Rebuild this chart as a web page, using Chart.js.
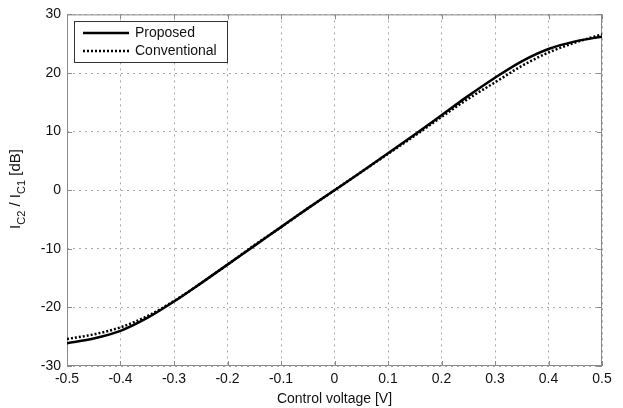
<!DOCTYPE html>
<html><head><meta charset="utf-8">
<script src="https://cdn.jsdelivr.net/npm/chart.js@4"></script>
<style>html,body{margin:0;padding:0;background:#fff}#w{width:623px;height:408px}</style>
</head><body><div id="w"><canvas id="c"></canvas></div>
<script>
const voltage = [-0.5,-0.45,-0.4,-0.35,-0.3,-0.25,-0.2,-0.15,-0.1,-0.05,0,0.05,0.1,0.15,0.2,0.25,0.3,0.35,0.4,0.45,0.5];
const proposed = [-26.1,-25.3,-24.0,-21.8,-19.0,-15.9,-12.7,-9.5,-6.3,-3.1,0,3.1,6.3,9.5,12.8,16.1,19.2,22.0,24.1,25.4,26.2];
const conventional = [-25.4,-24.6,-23.4,-21.5,-18.9,-15.9,-12.7,-9.4,-6.3,-3.1,0,3.1,6.2,9.3,12.5,15.6,18.4,21.2,23.5,25.2,26.6];
const xTicks = [-0.5,-0.4,-0.3,-0.2,-0.1,0,0.1,0.2,0.3,0.4,0.5];
const yTicks = [-30,-20,-10,0,10,20,30];
const seriesNames = ['Proposed','Conventional'];

const FONT = 'Liberation Sans, Arial, sans-serif';

const framePlugin = {
  id: 'frame',
  beforeDatasetsDraw(chart) {
    const {ctx, chartArea: a, scales: {x, y}} = chart;
    ctx.save();
    ctx.strokeStyle = '#8a8a8a';
    ctx.lineWidth = 1;
    ctx.setLineDash([]);
    ctx.strokeRect(a.left + 0.5, a.top + 0.5, a.right - a.left - 1, a.bottom - a.top - 1);
    ctx.beginPath();
    const tl = 5;
    xTicks.forEach(v => {
      const px = Math.round(x.getPixelForValue(v)) + 0.5;
      ctx.moveTo(px, a.bottom); ctx.lineTo(px, a.bottom - tl);
      ctx.moveTo(px, a.top); ctx.lineTo(px, a.top + tl);
    });
    yTicks.forEach(v => {
      const py = Math.round(y.getPixelForValue(v)) + 0.5;
      ctx.moveTo(a.left, py); ctx.lineTo(a.left + tl, py);
      ctx.moveTo(a.right, py); ctx.lineTo(a.right - tl, py);
    });
    ctx.stroke();
    ctx.restore();
  },
  afterDraw(chart) {
    const {ctx} = chart;
    ctx.save();
    // legend
    const L = 74, T = 21, R = 227, B = 62;
    ctx.fillStyle = '#fff';
    ctx.fillRect(L, T, R - L, B - T);
    ctx.strokeStyle = '#333';
    ctx.lineWidth = 1;
    ctx.strokeRect(L + 0.5, T + 0.5, R - L, B - T);
    const rows = [33, 51];
    chart.data.datasets.forEach((ds, i) => {
      ctx.beginPath();
      ctx.strokeStyle = ds.borderColor;
      ctx.lineWidth = ds.borderWidth;
      ctx.setLineDash(ds.borderDash || []);
      ctx.moveTo(83, rows[i]); ctx.lineTo(129, rows[i]);
      ctx.stroke();
      ctx.setLineDash([]);
      ctx.fillStyle = '#111';
      ctx.font = '14px ' + FONT;
      ctx.textBaseline = 'middle';
      ctx.textAlign = 'left';
      ctx.fillText(ds.label, 135, rows[i] + 0.5);
    });
    // y title with subscripts
    ctx.translate(16, 189);
    ctx.rotate(-Math.PI / 2);
    const parts = [['I',15,0],['C2',11,6],[' / I',15,0],['C1',11,6],[' [dB]',15,0]];
    let total = 0;
    parts.forEach(p => { ctx.font = p[1] + 'px ' + FONT; total += ctx.measureText(p[0]).width; });
    let cx = -total / 2;
    ctx.fillStyle = '#111';
    ctx.textBaseline = 'middle';
    ctx.textAlign = 'left';
    parts.forEach(p => {
      ctx.font = p[1] + 'px ' + FONT;
      ctx.fillText(p[0], cx, p[2]);
      cx += ctx.measureText(p[0]).width;
    });
    ctx.restore();
  }
};

const fmt = v => { const n = Math.round(v * 10) / 10; return String(n); };

new Chart(document.getElementById('c'), {
  type: 'line',
  data: {
    datasets: [
      { label: seriesNames[0], data: voltage.map((v, i) => ({x: v, y: proposed[i]})),
        borderColor: '#000', borderWidth: 2.5, pointRadius: 0, cubicInterpolationMode: 'monotone', fill: false },
      { label: seriesNames[1], data: voltage.map((v, i) => ({x: v, y: conventional[i]})),
        borderColor: '#000', borderWidth: 2.5, borderDash: [2, 2], pointRadius: 0, cubicInterpolationMode: 'monotone', fill: false }
    ]
  },
  options: {
    responsive: true, maintainAspectRatio: false, animation: false,
    layout: { padding: { left: 0, top: 14, right: 21, bottom: 0 } },
    plugins: { legend: { display: false }, tooltip: { enabled: false } },
    scales: {
      x: {
        type: 'linear', min: -0.5, max: 0.5,
        afterBuildTicks: s => { s.ticks = xTicks.map(v => ({value: v})); },
        afterFit: s => { s.height = 42; },
        border: { display: false, dash: [2, 4] },
        grid: { color: '#a8a8a8', lineWidth: 1, drawTicks: false },
        ticks: { padding: 5, color: '#111', font: { family: FONT, size: 14 }, callback: v => fmt(v), maxRotation: 0, autoSkip: false },
        title: { display: true, text: 'Control voltage [V]', color: '#111', font: { family: FONT, size: 14 }, padding: 0 }
      },
      y: {
        type: 'linear', min: -30, max: 30,
        afterBuildTicks: s => { s.ticks = yTicks.map(v => ({value: v})); },
        afterFit: s => { s.width = 67; },
        border: { display: false, dash: [2, 4] },
        grid: { color: '#a8a8a8', lineWidth: 1, drawTicks: false },
        ticks: { padding: 6, color: '#111', font: { family: FONT, size: 14 }, callback: v => String(v), autoSkip: false }
      }
    }
  },
  plugins: [framePlugin]
});
</script>
</body></html>
